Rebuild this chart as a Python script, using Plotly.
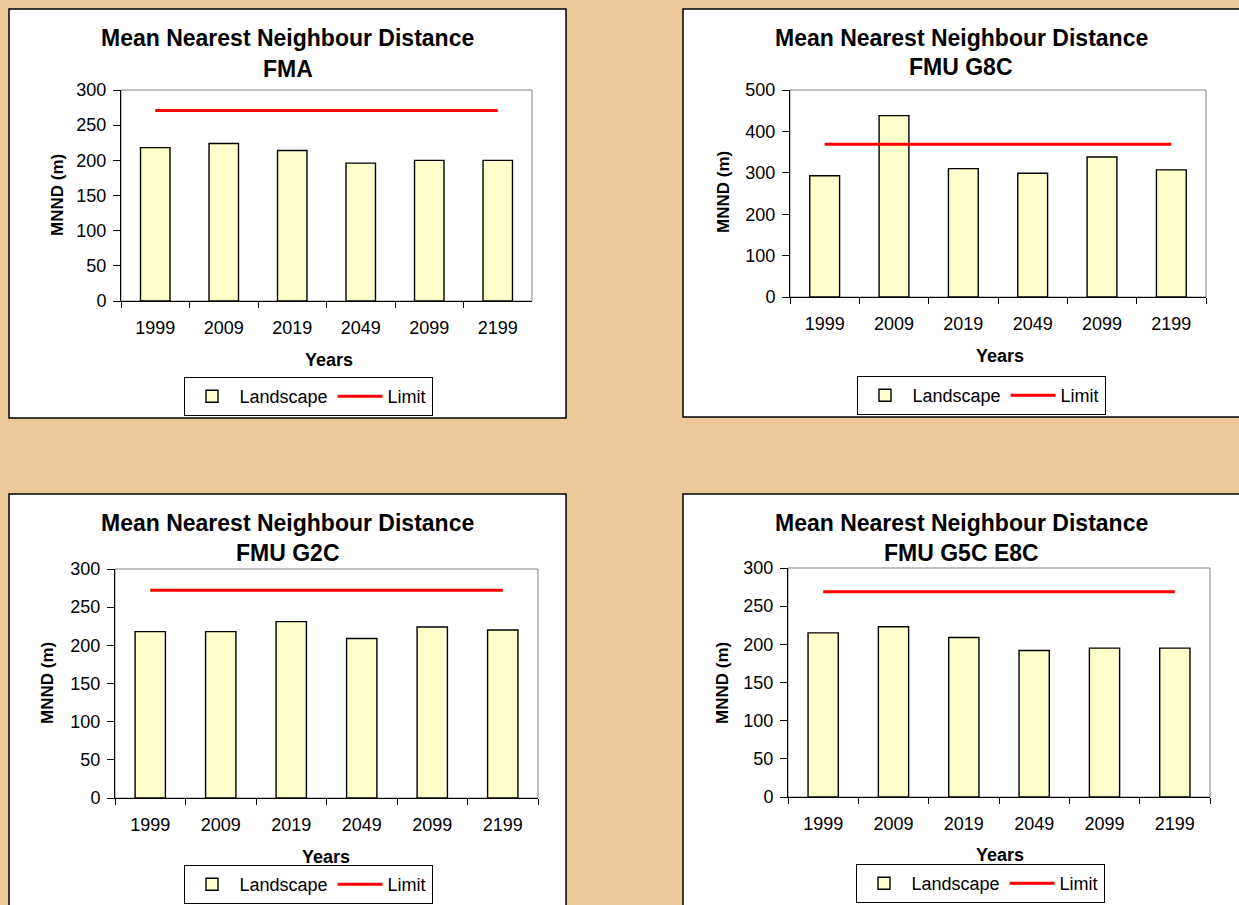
import plotly.graph_objects as go

W, H = 1239, 905

years = ["1999", "2009", "2019", "2049", "2099", "2199"]

fma_landscape = [218, 224, 214, 196, 200, 200]
fma_limit = [271, 271, 271, 271, 271, 271]

g8c_landscape = [293, 438, 310, 299, 338, 307]
g8c_limit = [369, 369, 369, 369, 369, 369]

g2c_landscape = [218, 218, 231, 209, 224, 220]
g2c_limit = [272, 272, 272, 272, 272, 272]

g5c_landscape = [215, 223, 209, 192, 195, 195]
g5c_limit = [269, 269, 269, 269, 269, 269]

subtitles = ["FMA", "FMU G8C", "FMU G2C", "FMU G5C E8C"]
landscape = [fma_landscape, g8c_landscape, g2c_landscape, g5c_landscape]
limits = [fma_limit, g8c_limit, g2c_limit, g5c_limit]
ymax = [300, 500, 300, 300]
ystep = [50, 100, 50, 50]

FONT = "Liberation Sans, Arial, sans-serif"

# pixel layout of each panel: box, plot area, title centre, legend, axis titles
panels = [
    dict(box=(9, 9, 566, 418), plot=(121, 532, 90, 301), tx=287.5, ty=(38, 69),
         leg=(308, 377), years=(329, 360), mnnd=(57, 195)),
    dict(box=(683, 9, 1250, 417), plot=(790, 1206, 90, 297), tx=961, ty=(38, 67),
         leg=(981, 376), years=(1000, 356), mnnd=(724, 192)),
    dict(box=(9, 494, 566, 915), plot=(115, 538, 569, 798), tx=287.5, ty=(523, 553),
         leg=(308, 865), years=(326, 857), mnnd=(47, 683)),
    dict(box=(683, 494, 1250, 915), plot=(788, 1210, 568, 797), tx=961, ty=(523, 553),
         leg=(980, 864), years=(1000, 855), mnnd=(722, 683)),
]


def px(x):
    return x / W


def py(y):
    return 1 - y / H


fig = go.Figure()
shapes = []
annotations = []
layout = {}

for i, p in enumerate(panels):
    n = "" if i == 0 else str(i + 1)
    leg = "legend" + n
    fig.add_trace(go.Bar(
        x=years, y=landscape[i], name="Landscape",
        marker=dict(color="#FFFFCC", line=dict(color="black", width=1.4)),
        xaxis="x" + n, yaxis="y" + n, legend=leg,
    ))
    fig.add_trace(go.Scatter(
        x=years, y=limits[i], name="Limit", mode="lines",
        line=dict(color="#FF0000", width=3),
        xaxis="x" + n, yaxis="y" + n, legend=leg,
    ))

    x0, x1, y0, y1 = p["plot"]
    layout["xaxis" + n] = dict(
        domain=[px(x0), px(x1)], anchor="y" + n, type="category",
        showline=True, linecolor="black", linewidth=1,
        ticks="outside", tickson="boundaries", ticklen=6, tickcolor="black",
        showgrid=False, ticklabelstandoff=10,
        tickfont=dict(family=FONT, size=18, color="black"),
    )
    layout["yaxis" + n] = dict(
        domain=[py(y1), py(y0)], anchor="x" + n,
        range=[0, ymax[i]], dtick=ystep[i], tick0=0,
        showline=True, linecolor="black", linewidth=1,
        ticks="outside", ticklen=7, tickcolor="black",
        showgrid=False, zeroline=False, ticklabelstandoff=3,
        tickfont=dict(family=FONT, size=18, color="black"),
    )
    layout[leg] = dict(
        orientation="h", x=px(p["leg"][0]), y=py(p["leg"][1]),
        xanchor="center", yanchor="top",
        bgcolor="white", bordercolor="black", borderwidth=1,
        font=dict(family=FONT, size=18, color="black"),
        itemwidth=45, traceorder="normal",
    )

    bx0, by0, bx1, by1 = p["box"]
    shapes.append(dict(
        type="rect", xref="paper", yref="paper", layer="below",
        x0=px(bx0), x1=px(bx1), y0=py(by1), y1=py(by0),
        fillcolor="white", line=dict(color="black", width=1.5),
    ))
    shapes.append(dict(
        type="rect", xref="x" + n + " domain", yref="y" + n + " domain", layer="below",
        x0=0, x1=1, y0=0, y1=1, line=dict(color="#808080", width=1),
    ))

    annotations.append(dict(
        text="<b>Mean Nearest Neighbour Distance</b>", x=px(p["tx"]), y=py(p["ty"][0]),
        xref="paper", yref="paper", xanchor="center", yanchor="middle", showarrow=False,
        font=dict(family=FONT, size=23, color="black"),
    ))
    annotations.append(dict(
        text="<b>" + subtitles[i] + "</b>", x=px(p["tx"]), y=py(p["ty"][1]),
        xref="paper", yref="paper", xanchor="center", yanchor="middle", showarrow=False,
        font=dict(family=FONT, size=23, color="black"),
    ))
    annotations.append(dict(
        text="<b>Years</b>", x=px(p["years"][0]), y=py(p["years"][1]),
        xref="paper", yref="paper", xanchor="center", yanchor="middle", showarrow=False,
        font=dict(family=FONT, size=18, color="black"),
    ))
    annotations.append(dict(
        text="<b>MNND (m)</b>", x=px(p["mnnd"][0]), y=py(p["mnnd"][1]), textangle=-90,
        xref="paper", yref="paper", xanchor="center", yanchor="middle", showarrow=False,
        font=dict(family=FONT, size=17, color="black"),
    ))

fig.update_layout(
    width=W, height=H,
    margin=dict(l=0, r=0, t=0, b=0, autoexpand=False),
    paper_bgcolor="#EBC897",
    plot_bgcolor="white",
    bargap=0.57,
    showlegend=True,
    shapes=shapes,
    annotations=annotations,
    **layout,
)

# pin the graph to the window's top-left corner so it fills the window exactly
pin = (
    "var d=document.getElementById('{plot_id}');"
    "d.style.position='fixed';d.style.left='0px';d.style.top='0px';"
    "document.body.style.margin='0';document.body.style.overflow='hidden';"
)
fig.write_html("out.html", config={"displayModeBar": False}, post_script=pin)
